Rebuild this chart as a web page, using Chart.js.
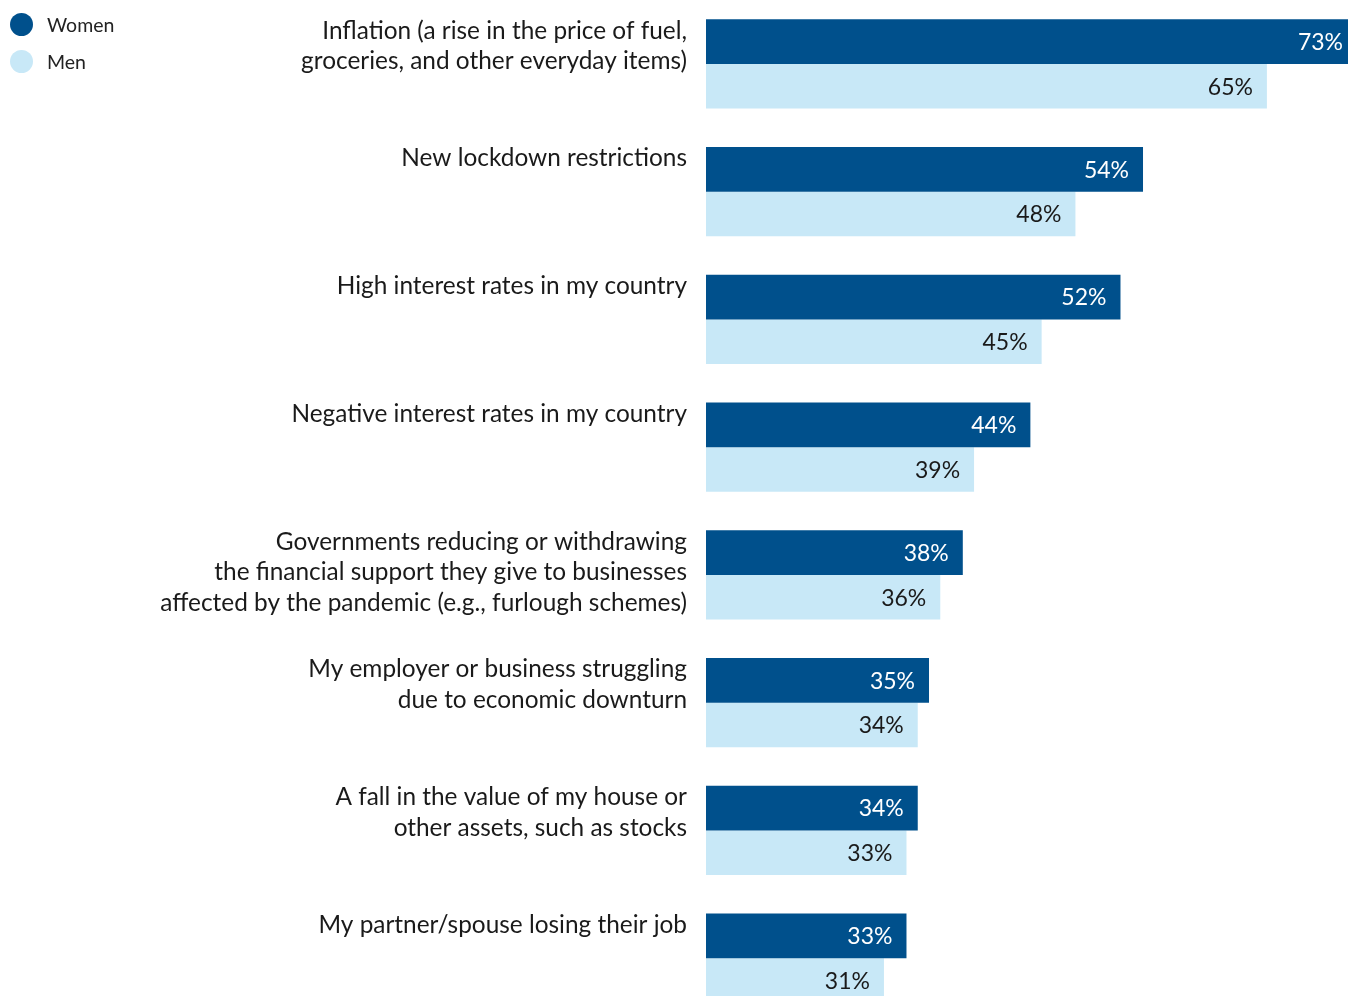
<!DOCTYPE html>
<html lang="en">
<head>
    <meta charset="UTF-8">
    <title>Financial worries by gender</title>
    <script src="https://cdn.jsdelivr.net/npm/chart.js"></script>
    <style>
        html, body {
            margin: 0;
            padding: 0;
            background: #fff;
            overflow: hidden;
        }

        #wrap {
            position: relative;
            width: 1348px;
            height: 1022px;
        }

        #legend {
            position: absolute;
            left: 10px;
            top: 12px;
            font-family: 'Lato', sans-serif;
            font-size: 19.5px;
            color: #222;
        }

        #legend div {
            display: flex;
            align-items: center;
            height: 24px;
            margin-bottom: 13px;
        }

        #legend span {
            display: inline-block;
            width: 23px;
            height: 23px;
            border-radius: 50%;
            margin-right: 14px;
        }
    </style>
</head>
<body>
    <div id="wrap">
        <canvas id="grafico"></canvas>
        <div id="legend"></div>
    </div>

    <script>
        var categorias = [
            ["Inflation (a rise in the price of fuel,", "groceries, and other everyday items)"],
            ["New lockdown restrictions"],
            ["High interest rates in my country"],
            ["Negative interest rates in my country"],
            ["Governments reducing or withdrawing", "the financial support they give to businesses", "affected by the pandemic (e.g., furlough schemes)"],
            ["My employer or business struggling", "due to economic downturn"],
            ["A fall in the value of my house or", "other assets, such as stocks"],
            ["My partner/spouse losing their job"]
        ];
        var mulheres = [73, 54, 52, 44, 38, 35, 34, 33];
        var homens = [65, 48, 45, 39, 36, 34, 33, 31];

        var corMulheres = '#00508c';
        var corHomens = '#c8e8f7';
        var fonte = "'Lato', sans-serif";
        var categoryPct = 0.70;

        // category text, right aligned, starting at the top of each group
        var rotulos = {
            id: 'rotulos',
            afterDraw: function(chart) {
                var ctx = chart.ctx;
                var y = chart.scales.y;
                var band = (y.getPixelForValue(1) - y.getPixelForValue(0));
                ctx.save();
                ctx.font = '24.4px ' + fonte;
                ctx.fillStyle = '#1a1a1a';
                ctx.textAlign = 'right';
                ctx.textBaseline = 'alphabetic';
                chart.data.labels.forEach(function(linhas, i) {
                    var topo = y.getPixelForValue(i) - band * categoryPct / 2;
                    linhas.forEach(function(linha, j) {
                        ctx.fillText(linha, chart.chartArea.left - 19, topo + 19.5 + j * 30.5);
                    });
                });
                ctx.restore();
            }
        };

        // percentage inside the end of every bar
        var valores = {
            id: 'valores',
            afterDatasetsDraw: function(chart) {
                var ctx = chart.ctx;
                ctx.save();
                ctx.font = '23px ' + fonte;
                ctx.textAlign = 'right';
                ctx.textBaseline = 'middle';
                chart.data.datasets.forEach(function(ds, d) {
                    chart.getDatasetMeta(d).data.forEach(function(bar, i) {
                        ctx.fillStyle = d === 0 ? '#ffffff' : '#1a1a1a';
                        ctx.fillText(ds.data[i] + '%', bar.x - 14, bar.y + 1);
                    });
                });
                ctx.restore();
            }
        };

        var grafico = new Chart(document.getElementById('grafico'), {
            type: 'bar',
            data: {
                labels: categorias,
                datasets: [
                    { label: 'Women', data: mulheres, backgroundColor: corMulheres },
                    { label: 'Men', data: homens, backgroundColor: corHomens }
                ]
            },
            options: {
                indexAxis: 'y',
                responsive: true,
                maintainAspectRatio: false,
                animation: false,
                layout: { padding: { left: 706, right: 0, top: 0, bottom: 0 } },
                datasets: {
                    bar: { barPercentage: 1, categoryPercentage: categoryPct, borderWidth: 0 }
                },
                scales: {
                    x: { display: false, min: 15.2, max: 72.2 },
                    y: { display: false }
                },
                plugins: {
                    legend: { display: false },
                    tooltip: { enabled: false }
                }
            },
            plugins: [rotulos, valores]
        });

        // legend built from the datasets
        var legenda = document.getElementById('legend');
        grafico.data.datasets.forEach(function(ds) {
            var item = document.createElement('div');
            item.innerHTML = '<span style="background:' + ds.backgroundColor + '"></span>' + ds.label;
            legenda.appendChild(item);
        });
    </script>
</body>
</html>
